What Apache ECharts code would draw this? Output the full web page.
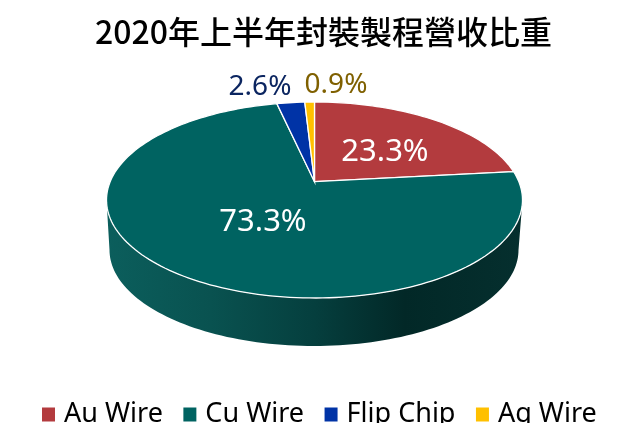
<!DOCTYPE html>
<html>
<head>
<meta charset="utf-8">
<title>2020年上半年封裝製程營收比重</title>
<script src="https://cdn.jsdelivr.net/npm/echarts@6/dist/echarts.min.js"></script>
<style>
html,body{margin:0;padding:0;background:#fff;}
#chart{width:627px;height:423px;}
</style>
</head>
<body>
<div id="chart"></div>
<script type="text/javascript">
// values
var titleText = '2020年上半年封裝製程營收比重';
var categories = ['Au Wire', 'Cu Wire', 'Flip Chip', 'Ag Wire'];
var shares = [23.3, 73.3, 2.6, 0.9];
var sliceColors = ['#b33b3e', '#006361', '#0033a6', '#ffc000'];
var labelColors = ['#ffffff', '#ffffff', '#0b2560', '#7f6000'];
var labelSizes = [31, 31, 28, 28];
var labelAt = [[385, 152], [263, 222], [260, 87], [336, 85]];

// the tilted disc: ellipse of the top face, ellipse of the bottom rim, and how far
// the perspective moves the pie centre up from the middle of the ellipse
var topFace = {cx: 314.5, cy: 200, rx: 208, ry: 98};
var bottomFace = {cx: 314, cy: 250, rx: 204.5, ry: 96};
var shift = 0.187;

var total = 0;
for (var n = 0; n < shares.length; n++) total += shares[n];

// clockwise degrees from 12 o'clock -> point on an ellipse, with perspective
function project(deg, face) {
	var a = deg * Math.PI / 180;
	var x = Math.sin(a), y = Math.cos(a);
	var d = 1 + shift * y;
	return [
		face.cx + face.rx * x * Math.sqrt(1 - shift * shift) / d,
		face.cy - face.ry * (y + shift) / d
	];
}

function arc(from, to, face) {
	var pts = [];
	var steps = Math.max(2, Math.ceil(Math.abs(to - from) / 1.5));
	for (var i = 0; i <= steps; i++) pts.push(project(from + (to - from) * i / steps, face));
	return pts;
}

var sideFill = {
	type: 'linear', x: 108, y: 0, x2: 520, y2: 0, global: true,
	colorStops: [
		{offset: 0, color: '#0b5e5c'},
		{offset: 0.25, color: '#095250'},
		{offset: 0.5, color: '#053f3e'},
		{offset: 0.72, color: '#022827'},
		{offset: 1, color: '#052f2e'}
	]
};

// degrees where the rim leaves the top face at the far left and far right
var rimFrom = Math.acos(-shift) * 180 / Math.PI;
var rimTo = 360 - rimFrom;

function makeItem(idx, start, end) {
	return function () {
		var children = [];
		var from = Math.max(start, rimFrom), to = Math.min(end, rimTo);
		if (from < to) {
			children.push({
				type: 'polygon',
				shape: {points: arc(from, to, bottomFace).concat(arc(to, from, topFace))},
				style: {fill: sideFill},
				silent: true
			});
		}
		var centre = [topFace.cx, topFace.cy - topFace.ry * shift];
		children.push({
			type: 'polygon',
			shape: {points: [centre].concat(arc(start, end, topFace))},
			style: {fill: sliceColors[idx], stroke: '#ffffff', lineWidth: 1.3},
			silent: true
		});
		children.push({
			type: 'text',
			x: labelAt[idx][0],
			y: labelAt[idx][1],
			style: {
				text: shares[idx] + '%',
				fill: labelColors[idx],
				font: labelSizes[idx] + 'px "Noto Sans", sans-serif',
				align: 'center',
				verticalAlign: 'middle'
			},
			silent: true
		});
		return {type: 'group', children: children};
	};
}

var seriesList = [];
var sum = 0;
for (var k = 0; k < categories.length; k++) {
	var startDeg = sum / total * 360;
	sum += shares[k];
	seriesList.push({
		type: 'custom',
		name: categories[k],
		coordinateSystem: 'none',
		data: [shares[k]],
		itemStyle: {color: sliceColors[k]},
		renderItem: makeItem(k, startDeg, sum / total * 360),
		animation: false,
		silent: true
	});
}

var myChart = echarts.init(document.getElementById('chart'));
myChart.setOption({
	animation: false,
	title: {
		text: titleText,
		left: 90,
		top: 11,
		textStyle: {fontFamily: '"Noto Sans CJK TC"', fontSize: 32, fontWeight: 500, color: '#000000'}
	},
	legend: {
		data: categories,
		left: 37,
		top: 396,
		icon: 'rect',
		itemWidth: 13,
		itemHeight: 14,
		itemGap: 20.5,
		textStyle: {fontFamily: '"Noto Sans"', fontSize: 27, color: '#000000', padding: [0, 0, 0, 4]}
	},
	series: seriesList
});
</script>
</body>
</html>
